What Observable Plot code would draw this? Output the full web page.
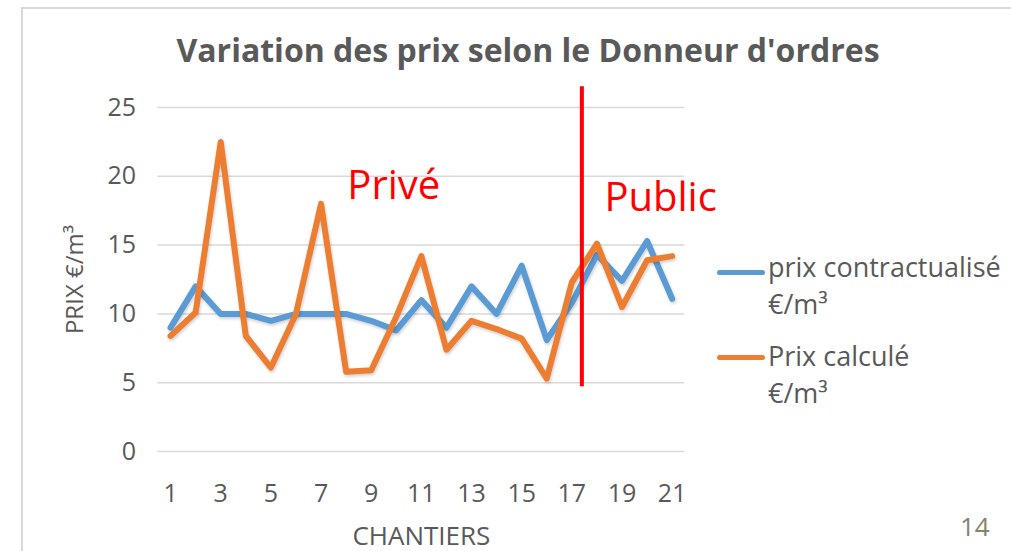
<!DOCTYPE html>
<html>
<head>
<meta charset="utf-8">
<script src="https://cdn.jsdelivr.net/npm/d3@7"></script>
<script src="https://cdn.jsdelivr.net/npm/@observablehq/plot@0.6"></script>
<style>
  html, body { margin: 0; padding: 0; background: #fff; overflow: hidden; }
  #wrap { position: relative; width: 1011px; height: 551px; overflow: hidden; font-family: "Open Sans", sans-serif; }
  #frame { position: absolute; left: 21px; top: 7px; width: 1100px; height: 700px; border: 2px solid #d9d9d9; box-sizing: border-box; }
  #chart { position: absolute; left: 0; top: 0; }
  .t { position: absolute; white-space: nowrap; line-height: 1; color: #595959; }
  #title { left: 128px; width: 800px; text-align: center; top: 34px; font-size: 32px; font-weight: 700; }
  .leg { font-size: 27px; }
  .sw { position: absolute; height: 5px; border-radius: 3px; }
  #page { left: 960px; top: 513px; font-size: 26px; color: #84846a; }
  .serie { filter: drop-shadow(1px 2px 1.5px rgba(0,0,0,0.18)); }
</style>
</head>
<body>
<div id="wrap">
  <div id="frame"></div>
  <div id="chart"></div>
  <div class="t" id="title"></div>
  <div id="legend"></div>
  <div class="t" id="page"></div>
</div>
<script>
// ---- data ----
const chantiers = [1, 2, 3, 4, 5, 6, 7, 8, 9, 10, 11, 12, 13, 14, 15, 16, 17, 18, 19, 20, 21];
const prixContractualise = [9, 12, 10, 10, 9.5, 10, 10, 10, 9.5, 8.8, 11, 9, 12, 10, 13.5, 8.1, 10.8, 14.3, 12.4, 15.3, 11.1];
const prixCalcule = [8.4, 10.1, 22.5, 8.4, 6.1, 10, 18, 5.8, 5.9, 9.8, 14.2, 7.4, 9.5, 8.9, 8.2, 5.3, 12.3, 15.1, 10.5, 13.9, 14.2];
const seriesNames = ["prix contractualisé €/m³", "Prix calculé €/m³"];
const yTicks = [0, 5, 10, 15, 20, 25];
const xTicks = [1, 3, 5, 7, 9, 11, 13, 15, 17, 19, 21];
const titleText = "Variation des prix selon le Donneur d'ordres";
const yLabel = "PRIX €/m³";
const xLabel = "CHANTIERS";
const pageNumber = "14";
// separation Privé / Public (between chantier 17 and 18)
const separation = [{x: 17.4, y1: 4.7, y2: 26.5}];
const zones = [
  {label: "Privé", x: 8.05, y: 19.3},
  {label: "Public", x: 18.3, y: 18.4}
];

const colors = ["#5B9BD5", "#ED7D31"];
const rows = chantiers.map((c, i) => ({chantier: c, contractualise: prixContractualise[i], calcule: prixCalcule[i]}));

const chart = Plot.plot({
  width: 1011,
  height: 551,
  marginLeft: 157.5,
  marginRight: 326.8,
  marginTop: 107,
  marginBottom: 100,
  style: {fontFamily: "Open Sans, sans-serif", fontSize: "25px", color: "#595959", background: "transparent", overflow: "visible"},
  x: {domain: [0.5, 21.5]},
  y: {domain: [0, 25]},
  marks: [
    Plot.ruleY(yTicks, {stroke: "#d9d9d9", strokeWidth: 1.5}),
    Plot.axisY({ticks: yTicks, tickSize: 0, tickPadding: 22, label: null, fontSize: 25}),
    Plot.axisX({ticks: xTicks, tickSize: 0, tickPadding: 33, label: null, fontSize: 25}),
    Plot.text([yLabel], {frameAnchor: "left", rotate: -90, dx: -83, fontSize: 24, fill: "#595959", textAnchor: "middle", lineAnchor: "middle"}),
    Plot.text([xLabel], {frameAnchor: "bottom", dy: 93, fontSize: 26, fill: "#595959"}),
    Plot.line(rows, {x: "chantier", y: "contractualise", stroke: colors[0], strokeWidth: 6, strokeLinejoin: "round", strokeLinecap: "round", className: "serie"}),
    Plot.line(rows, {x: "chantier", y: "calcule", stroke: colors[1], strokeWidth: 6, strokeLinejoin: "round", strokeLinecap: "round", className: "serie"}),
    Plot.ruleX(separation, {x: "x", y1: "y1", y2: "y2", stroke: "#ff0000", strokeWidth: 4}),
    Plot.text(zones, {x: "x", y: "y", text: "label", textAnchor: "start", fill: "#ff0000", fontSize: 40})
  ]
});
document.getElementById("chart").appendChild(chart);
document.getElementById("title").textContent = titleText;
document.getElementById("page").textContent = pageNumber;

// legend (HTML)
const legend = document.getElementById("legend");
const legendItems = [
  {lines: ["prix contractualisé", "€/m³"], base: 277, lineY: 272},
  {lines: ["Prix calculé", "€/m³"], base: 366, lineY: 357}
];
legendItems.forEach((it, i) => {
  const sw = document.createElement("div");
  sw.className = "sw";
  sw.style.left = "717px"; sw.style.width = "48px";
  sw.style.top = (it.lineY - 2.5) + "px";
  sw.style.background = colors[i];
  legend.appendChild(sw);
  it.lines.forEach((ln, j) => {
    const d = document.createElement("div");
    d.className = "t leg";
    d.textContent = ln;
    d.style.left = "768px";
    d.style.top = (it.base + j * 36.5 - 0.888 * 27) + "px";
    legend.appendChild(d);
  });
});
</script>
</body>
</html>
